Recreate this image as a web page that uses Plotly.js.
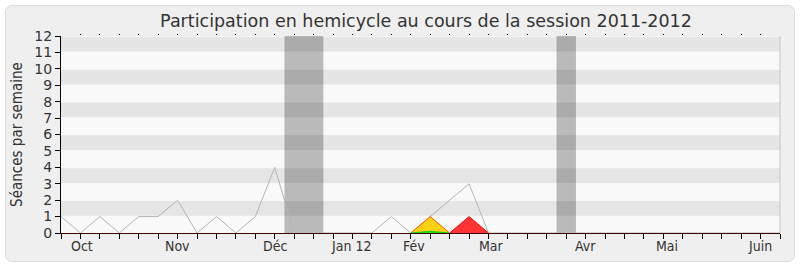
<!DOCTYPE html>
<html>
<head>
<meta charset="utf-8">
<script src="https://cdn.plot.ly/plotly-3.0.1.min.js"></script>
<style>
  html, body { margin: 0; padding: 0; background: #ffffff; }
  #frame { position: absolute; left: 5px; top: 5px; width: 788px; height: 255px;
           border: 1px solid #d9d9d9; border-radius: 7px; background: #efefef; }
  #chart { position: absolute; left: 0; top: 0; width: 800px; height: 267px; }
</style>
</head>
<body>
<div id="frame"></div>
<div id="chart"></div>
<script>
// Week index of the 2011-2012 session (one point per week)
const weeks = [0,1,2,3,4,5,6,7,8,9,10,11,12,13,14,15,16,17,18,19,20,21,22,23,24,25,26,27,28,29,30,31,32,33,34,35,36,37];

// Sessions attended per week (all hemicycle activity)
const totalSessions = [1,0,1,0,1,1,2,0,1,0,1,4,0,0,0,0,0,1,0,1,2,3,0,0,0,0,0,0,0,0,0,0,0,0,0,0,0,0];
// Week-level series drawn as filled areas (null where nothing is drawn)
const N = null;
const presences     = [N,N,N,N,N,N,N,N,N,N,N,N,N,N,N,N,N,N,0,1,0,N,N,N,N,N,N,N,N,N,N,N,N,N,N,N,N,N];
const interventions = [N,N,N,N,N,N,N,N,N,N,N,N,N,N,N,N,N,N,0,0.1,0,N,N,N,N,N,N,N,N,N,N,N,N,N,N,N,N,N];
const questions     = [N,N,N,N,N,N,N,N,N,N,N,N,N,N,N,N,N,N,N,N,0,1,0,N,N,N,N,N,N,N,N,N,N,N,N,N,N,N];

// Month labels and their positions on the week scale
const monthLabels = ['Oct','Nov','Déc','Jan 12','Fév','Mar','Avr','Mai','Juin'];
const monthPos    = [1.08, 5.98, 11.0, 14.93, 18.14, 22.14, 27.0, 31.18, 35.98];

// Parliamentary recess periods (week scale)
const recessStart = [11.5, 25.5];
const recessEnd   = [13.5, 26.5];

const FONT = 'DejaVu Sans, sans-serif';
const FONT_C = 'DejaVu Sans Condensed, DejaVu Sans, sans-serif';
const TXT = '#333333';

const traces = [
  { x: weeks, y: totalSessions, type: 'scatter', mode: 'lines',
    line: { color: '#b4b4b4', width: 1 }, hoverinfo: 'skip' },
  { x: weeks, y: questions, type: 'scatter', mode: 'lines', fill: 'tozeroy',
    fillcolor: '#ff3535', line: { color: '#e81010', width: 1 }, hoverinfo: 'skip' },
  { x: weeks, y: presences, type: 'scatter', mode: 'lines', fill: 'tozeroy',
    fillcolor: '#ffd014', line: { color: '#ff5a00', width: 1 }, hoverinfo: 'skip' },
  { x: weeks, y: interventions, type: 'scatter', mode: 'lines', fill: 'tozeroy',
    fillcolor: '#22dd22', line: { color: '#11cc11', width: 1 }, hoverinfo: 'skip' },
  // carries the small tick marks along the top edge
  { x: [weeks[0]], y: [0], xaxis: 'x2', type: 'scatter', mode: 'markers',
    marker: { opacity: 0 }, hoverinfo: 'skip' }
];

const shapes = [];
// alternating horizontal bands
[1, 3, 5, 7, 9, 11].forEach(n => {
  shapes.push({ type: 'rect', xref: 'paper', yref: 'y', x0: 0, x1: 1,
    y0: n + 0.05, y1: n + 0.95, fillcolor: '#e5e5e5', line: { width: 0 }, layer: 'below' });
});
// recess bands
recessStart.forEach((s, i) => {
  shapes.push({ type: 'rect', xref: 'x', yref: 'paper', x0: s, x1: recessEnd[i],
    y0: 0, y1: 1, fillcolor: 'rgba(0,0,0,0.25)', line: { width: 0 }, layer: 'below' });
});
// right edge of the plotting area
shapes.push({ type: 'line', xref: 'paper', yref: 'paper', x0: 1, x1: 1, y0: 0, y1: 1,
  line: { color: '#c4c4c4', width: 1 } });

const annotations = monthLabels.map((t, i) => ({
  text: t, x: monthPos[i], xref: 'x', y: 0, yref: 'paper',
  yanchor: 'top', xanchor: 'center', yshift: -3, showarrow: false,
  font: { family: FONT_C, size: 14, color: TXT }
}));

const layout = {
  width: 800, height: 267,
  margin: { l: 61, r: 20, t: 36, b: 34, pad: 0 },
  paper_bgcolor: 'rgba(0,0,0,0)',
  plot_bgcolor: '#f9f9f9',
  showlegend: false,
  title: {
    text: 'Participation en hemicycle au cours de la session 2011-2012',
    font: { family: FONT, size: 17.5, color: TXT },
    x: 426 / 800, xanchor: 'center', xref: 'container',
    y: 1 - 21 / 267, yanchor: 'middle', yref: 'container'
  },
  xaxis: {
    range: [0, 37], tickvals: weeks, showticklabels: false,
    ticks: 'outside', ticklen: 5, tickcolor: '#000', tickwidth: 1,
    showline: true, linecolor: '#3c0000', linewidth: 1,
    showgrid: false, zeroline: false, fixedrange: true
  },
  xaxis2: {
    overlaying: 'x', side: 'top', range: [0, 37],
    tickvals: weeks.slice(1, 37), showticklabels: false,
    ticks: 'outside', ticklen: 1, tickcolor: '#000', tickwidth: 1,
    showline: false, showgrid: false, zeroline: false, fixedrange: true
  },
  yaxis: {
    range: [0, 12], dtick: 1, tick0: 0,
    ticks: 'outside', ticklen: 5, tickcolor: '#000', tickwidth: 1,
    showline: true, linecolor: '#000', linewidth: 1,
    showgrid: false, zeroline: false, fixedrange: true,
    tickfont: { family: FONT, size: 14, color: TXT },
    title: { text: 'Séances par semaine', standoff: 8,
             font: { family: FONT_C, size: 15, color: TXT } }
  },
  shapes: shapes,
  annotations: annotations
};

Plotly.newPlot('chart', traces, layout, { staticPlot: true, displayModeBar: false });
</script>
</body>
</html>
